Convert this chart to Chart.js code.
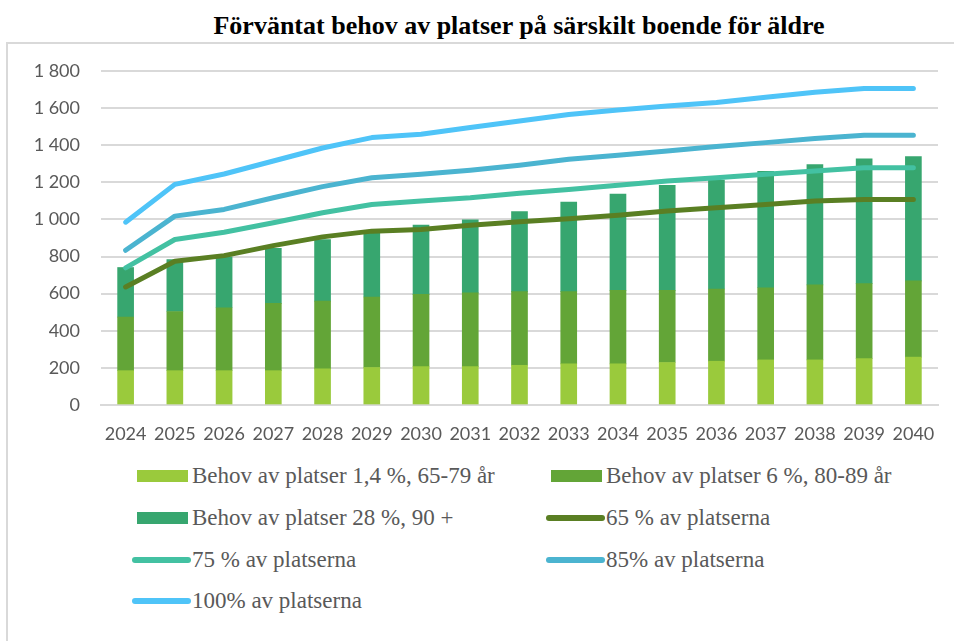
<!DOCTYPE html>
<html>
<head>
<meta charset="utf-8">
<script src="https://cdn.jsdelivr.net/npm/chart.js@4"></script>
<style>
body { margin: 0; width: 954px; height: 641px; overflow: hidden; background: #fff; position: relative; font-family: 'Liberation Serif', serif; }
#frame { position: absolute; left: 6px; top: 42px; width: 1000px; height: 700px; border: 2px solid #d9d9d9; box-sizing: border-box; }
#title { position: absolute; top: 11px; left: 0; width: 1038px; text-align: center; font-weight: bold; font-size: 26px; line-height: 30px; color: #000; }
#chart { position: absolute; left: 0; top: 50px; }
.mark { position: absolute; }
.txt { position: absolute; height: 30px; line-height: 30px; font-size: 23px; color: #595959; white-space: nowrap; }
</style>
</head>
<body>
<div id="frame"></div>
<div id="title">Förväntat behov av platser på särskilt boende för äldre</div>
<canvas id="chart" width="954" height="400"></canvas>
<div id="legend"></div>
<script>
var years = ['2024', '2025', '2026', '2027', '2028', '2029', '2030', '2031', '2032', '2033', '2034', '2035', '2036', '2037', '2038', '2039', '2040'];

// staplar
var behov6579 = [185, 185, 185, 185, 195, 202, 207, 207, 214, 222, 222, 229, 236, 243, 243, 250, 258];
var behov8089 = [289, 319, 339, 363, 365, 380, 389, 397, 397, 389, 396, 389, 389, 389, 404, 404, 411];
var behov90 = [267, 280, 274, 297, 332, 346, 373, 394, 432, 483, 519, 566, 587, 627, 649, 672, 670];

// linjer
var platser65 = [636, 775, 805, 859, 906, 937, 946, 969, 987, 1004, 1023, 1045, 1063, 1081, 1099, 1108, 1108];
var platser75 = [739, 892, 931, 982, 1036, 1081, 1099, 1117, 1141, 1162, 1184, 1207, 1225, 1243, 1261, 1279, 1279];
var platser85 = [834, 1018, 1054, 1117, 1177, 1225, 1243, 1265, 1292, 1324, 1346, 1369, 1393, 1414, 1436, 1454, 1454];
var platser100 = [985, 1189, 1245, 1315, 1385, 1441, 1459, 1495, 1531, 1566, 1590, 1612, 1630, 1658, 1685, 1706, 1706];

function bar(label, data, color) {
    return { type: 'bar', label: label, data: data, backgroundColor: color, stack: 'behov', order: 2, barThickness: 16 };
}
function line(label, data, color, key) {
    return { type: 'line', label: label, data: data, borderColor: color, backgroundColor: color, stack: key, order: 1,
        borderWidth: 5, pointRadius: 0, tension: 0, fill: false, borderCapStyle: 'round', borderJoinStyle: 'round' };
}

var datasets = [
    bar('Behov av platser 1,4 %, 65-79 år', behov6579, '#9ACA3C'),
    bar('Behov av platser 6 %, 80-89 år', behov8089, '#63A537'),
    bar('Behov av platser 28 %, 90 +', behov90, '#37A66F'),
    line('65 % av platserna', platser65, '#5A7F23', 'p65'),
    line('75 % av platserna', platser75, '#43C1A2', 'p75'),
    line('85% av platserna', platser85, '#4BB4D0', 'p85'),
    line('100% av platserna', platser100, '#4FC4F8', 'p100')
];

var tickFont = { family: "Lato, sans-serif", size: 18 };

var myChart = new Chart(document.getElementById('chart'), {
    data: { labels: years, datasets: datasets },
    options: {
        responsive: false,
        devicePixelRatio: 1,
        animation: false,
        layout: { padding: { top: 21, right: 16, left: 0, bottom: 0 } },
        plugins: { legend: { display: false }, tooltip: { enabled: false } },
        scales: {
            x: {
                stacked: true,
                grid: { display: false, drawTicks: false },
                border: { color: '#d9d9d9', width: 2 },
                ticks: { color: '#595959', font: tickFont, padding: 18, maxRotation: 0, minRotation: 0, autoSkip: false },
                afterFit: function (s) { s.height = 45; }
            },
            y: {
                stacked: true,
                min: 0, max: 1800,
                grid: { color: '#d9d9d9', lineWidth: 2, drawTicks: false },
                border: { display: false },
                ticks: {
                    stepSize: 200, color: '#595959', font: tickFont, padding: 21,
                    callback: function (v) { return v >= 1000 ? Math.floor(v / 1000) + ' ' + String(v % 1000).padStart(3, '0') : String(v); }
                },
                afterFit: function (s) { s.width = 101; s.paddingTop = 0; s.paddingBottom = 0; }
            }
        }
    }
});

// legend i två kolumner
var legend = document.getElementById('legend');
var colX = [137, 551];
var textX = [192, 606];
var rowY = [476, 518, 560, 601];
datasets.forEach(function (ds, i) {
    var col = i % 2, y = rowY[Math.floor(i / 2)];
    var mark = document.createElement('div');
    mark.className = 'mark';
    if (ds.type === 'bar') {
        mark.style.left = colX[col] + 'px';
        mark.style.width = '51px';
        mark.style.top = (y - 6) + 'px';
        mark.style.height = '12px';
        mark.style.background = ds.backgroundColor;
    } else {
        mark.style.left = (colX[col] - 5) + 'px';
        mark.style.width = '59px';
        mark.style.top = (y - 3) + 'px';
        mark.style.height = '6px';
        mark.style.borderRadius = '3px';
        mark.style.background = ds.borderColor;
    }
    var txt = document.createElement('div');
    txt.className = 'txt';
    txt.style.left = textX[col] + 'px';
    txt.style.top = (y - 15) + 'px';
    txt.textContent = ds.label;
    legend.appendChild(mark);
    legend.appendChild(txt);
});
</script>
</body>
</html>
